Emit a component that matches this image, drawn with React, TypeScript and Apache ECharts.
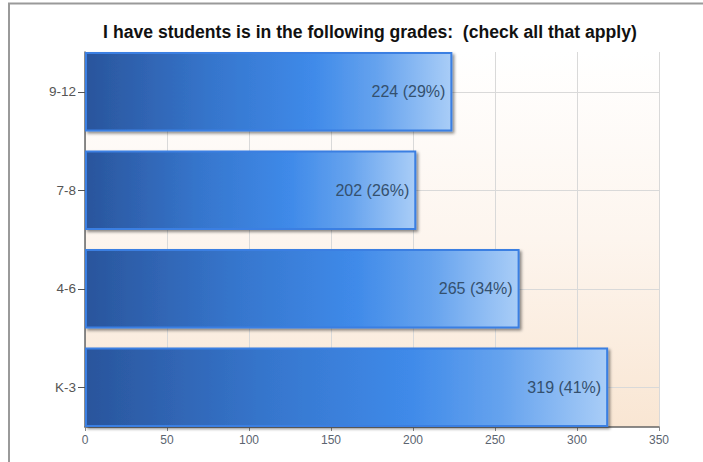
import React, { useEffect, useRef } from "react";
import * as echarts from "echarts";

const categories = ["K-3", "4-6", "7-8", "9-12"];
const counts = [319, 265, 202, 224];
const percents = [41, 34, 26, 29];
const xTicks = [0, 50, 100, 150, 200, 250, 300, 350];

const FONT = "'Liberation Sans', Arial, sans-serif";

export default function App() {
  const ref = useRef<HTMLDivElement>(null);
  useEffect(() => {
    if (!ref.current) return;
    const chart = echarts.init(ref.current, null, { renderer: "svg" });
    const option: any = {
      animation: false,
      backgroundColor: "#ffffff",
      title: {
        text: "I have students is in the following grades:  (check all that apply)",
        left: 365,
        top: 18,
        textAlign: "center",
        textStyle: { fontFamily: FONT, fontSize: 17.6, fontWeight: "bold", color: "#111" },
      },
      graphic: [
        { type: "line", shape: { x1: 9, y1: 3, x2: 9, y2: 462 }, style: { stroke: "#9a9a9a", lineWidth: 2 } },
        { type: "line", shape: { x1: 8, y1: 3.5, x2: 703, y2: 3.5 }, style: { stroke: "#9a9a9a", lineWidth: 2 } },
      ],
      grid: [
        {
          left: 85,
          right: 44,
          top: 52,
          bottom: 35,
          show: true,
          borderWidth: 0,
          backgroundColor: new echarts.graphic.LinearGradient(0, 0, 0, 1, [
            { offset: 0, color: "#ffffff" },
            { offset: 0.5, color: "#fdf5ee" },
            { offset: 1, color: "#f9e6d3" },
          ]),
        },
        { left: 85, right: 44, top: 42.5, bottom: 25.5 },
      ],
      xAxis: [
        {
          type: "value",
          gridIndex: 0,
          min: xTicks[0],
          max: xTicks[xTicks.length - 1],
          interval: 50,
          axisLine: { show: true, lineStyle: { color: "#666", width: 1.5 } },
          axisTick: { show: true, length: 4, lineStyle: { color: "#888" } },
          axisLabel: { color: "#5b6470", fontSize: 12, fontFamily: FONT, margin: 7 },
          splitLine: { show: true, lineStyle: { color: "#d9d9d9", width: 1 } },
        },
        {
          type: "value",
          gridIndex: 1,
          min: xTicks[0],
          max: xTicks[xTicks.length - 1],
          show: false,
        },
      ],
      yAxis: [
        {
          type: "value",
          gridIndex: 0,
          min: 0,
          max: 1,
          axisLine: { show: true, lineStyle: { color: "#666", width: 1.5 } },
          axisTick: { show: false },
          axisLabel: { show: false },
          splitLine: { show: false },
        },
        {
          type: "category",
          gridIndex: 1,
          data: categories,
          axisLine: { show: false },
          axisTick: { show: true, alignWithLabel: true, length: 7, lineStyle: { color: "#555" } },
          axisLabel: { color: "#555", fontSize: 13.5, fontFamily: FONT, margin: 9 },
          splitLine: { show: false },
        },
      ],
      series: [
        {
          type: "line",
          xAxisIndex: 1,
          yAxisIndex: 1,
          data: [],
          z: 1,
          markLine: {
            z: 1,
            silent: true,
            symbol: "none",
            label: { show: false },
            lineStyle: { color: "#d9d9d9", width: 1, type: "solid" },
            data: categories.map((c) => ({ yAxis: c })),
          },
        },
        {
          type: "bar",
          xAxisIndex: 1,
          yAxisIndex: 1,
          z: 10,
          data: counts,
          barWidth: 79.5,
          itemStyle: {
            color: new echarts.graphic.LinearGradient(0, 0, 1, 0, [
              { offset: 0, color: "#2a559c" },
              { offset: 0.35, color: "#3676cd" },
              { offset: 0.62, color: "#3f8ae9" },
              { offset: 0.8, color: "#66a3ee" },
              { offset: 1, color: "#a9cdf7" },
            ]),
            borderColor: "#3a7fe2",
            borderWidth: 2,
            shadowColor: "rgba(0,0,0,0.45)",
            shadowBlur: 3,
            shadowOffsetX: 2,
            shadowOffsetY: 2,
          },
          label: {
            show: true,
            position: "insideRight",
            distance: 7,
            color: "#34506e",
            fontSize: 16,
            fontFamily: FONT,
            formatter: (p: any) => `${counts[p.dataIndex]} (${percents[p.dataIndex]}%)`,
          },
        },
      ],
    };
    chart.setOption(option);
    return () => chart.dispose();
  }, []);
  return (
    <div
      ref={ref}
      style={{ position: "fixed", left: 0, top: 0, width: 703, height: 462 }}
    />
  );
}
